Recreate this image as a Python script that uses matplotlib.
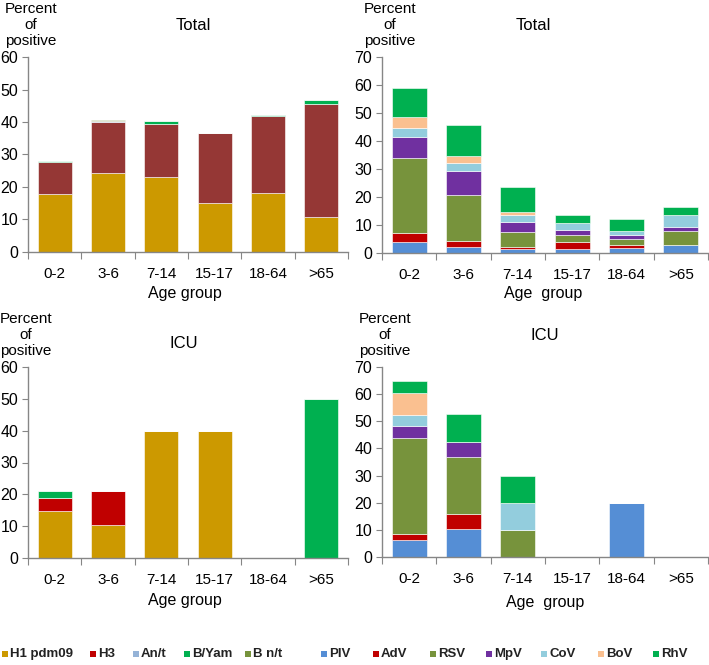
import numpy as np
import matplotlib
matplotlib.use('Agg')
import matplotlib.pyplot as plt
from matplotlib.patches import Rectangle

plt.rcParams['font.family'] = ['Liberation Sans', 'DejaVu Sans']

age_groups = ['0-2', '3-6', '7-14', '15-17', '18-64', '>65']

# influenza panels (left)
flu_names = ['H1 pdm09', 'H3', 'An/t', 'B/Yam', 'B n/t']
flu_total = {
    'H1 pdm09': [17.8, 24.4, 23.2, 15.0, 18.0, 10.7],
    'H3':       [9.9, 15.6, 16.1, 21.5, 23.8, 34.9],
    'An/t':     [0.1, 0.2, 0.1, 0.0, 0.2, 0.0],
    'B/Yam':    [0.2, 0.1, 0.9, 0.0, 0.2, 1.1],
    'B n/t':    [0.0, 0.4, 0.1, 0.0, 0.1, 0.0],
}
flu_icu = {
    'H1 pdm09': [14.7, 10.4, 40.0, 40.0, 0.0, 0.0],
    'H3':       [4.1, 10.6, 0.0, 0.0, 0.0, 0.0],
    'An/t':     [0.0, 0.0, 0.0, 0.0, 0.0, 0.0],
    'B/Yam':    [2.2, 0.0, 0.0, 0.0, 0.0, 50.0],
    'B n/t':    [0.0, 0.0, 0.0, 0.0, 0.0, 0.0],
}

# other respiratory viruses (right)
resp_names = ['PIV', 'AdV', 'RSV', 'MpV', 'CoV', 'BoV', 'RhV']
resp_total = {
    'PIV': [3.8, 2.15, 1.4, 1.3, 1.7, 2.75],
    'AdV': [3.2, 2.15, 0.75, 2.8, 1.05, 0.0],
    'RSV': [26.9, 16.5, 5.35, 2.5, 2.15, 5.05],
    'MpV': [7.4, 8.6, 3.4, 1.6, 1.4, 1.6],
    'CoV': [3.5, 2.7, 2.6, 2.55, 1.6, 4.1],
    'BoV': [3.7, 2.4, 1.2, 0.0, 0.0, 0.0],
    'RhV': [10.3, 11.3, 8.7, 2.75, 4.2, 2.9],
}
resp_icu = {
    'PIV': [6.3, 10.5, 0.0, 0.0, 20.0, 0.0],
    'AdV': [2.1, 5.3, 0.0, 0.0, 0.0, 0.0],
    'RSV': [35.5, 21.1, 10.0, 0.0, 0.0, 0.0],
    'MpV': [4.2, 5.3, 0.0, 0.0, 0.0, 0.0],
    'CoV': [4.1, 0.0, 10.0, 0.0, 0.0, 0.0],
    'BoV': [8.3, 0.0, 0.0, 0.0, 0.0, 0.0],
    'RhV': [4.4, 10.6, 10.0, 0.0, 0.0, 0.0],
}

flu_colors = {'H1 pdm09': '#CC9900', 'H3': '#C00000', 'An/t': '#95B3D7',
              'B/Yam': '#00B050', 'B n/t': '#77933C'}
flu_colors_total = dict(flu_colors, **{'H3': '#953735'})
resp_colors = {'PIV': '#558ED5', 'AdV': '#C00000', 'RSV': '#77933C', 'MpV': '#7030A0',
               'CoV': '#93CDDD', 'BoV': '#FAC090', 'RhV': '#00B050'}

W, H = 709, 665
fig = plt.figure(figsize=(W / 100, H / 100), dpi=100)


def px_axes(left, top, right, bottom):
    return fig.add_axes([left / W, (H - bottom) / H, (right - left) / W, (bottom - top) / H])


def stacked(ax, data, names, colors, ymax):
    x = np.arange(len(age_groups))
    base = np.zeros(len(age_groups))
    for name in names:
        vals = np.array(data[name])
        ax.bar(x, vals, 0.64, bottom=base, color=colors[name], edgecolor='white', linewidth=0.4)
        base += vals
    ax.set_xlim(-0.5, 5.5)
    ax.set_ylim(0, ymax)
    ax.set_yticks(np.arange(0, ymax + 1, 10))
    ax.set_xticks(np.arange(-0.5, 6, 1))
    ax.set_xticklabels([])
    ax.set_xticks(x, minor=True)
    ax.set_xticklabels(age_groups, minor=True, fontsize=11)
    ax.tick_params(axis='x', which='major', length=5, color='#868686', direction='out')
    ax.tick_params(axis='x', which='minor', length=0, pad=11)
    ax.tick_params(axis='y', length=4, color='#868686', labelsize=11.5, pad=3)
    for s in ['top', 'right']:
        ax.spines[s].set_visible(False)
    for s in ['left', 'bottom']:
        ax.spines[s].set_color('#868686')
        ax.spines[s].set_linewidth(1.0)
    return ax


ax1 = px_axes(28, 57, 348, 252)
stacked(ax1, flu_total, flu_names, flu_colors_total, 60)
ax2 = px_axes(382, 57, 708, 253)
stacked(ax2, resp_total, resp_names, resp_colors, 70)
ax3 = px_axes(28, 367, 348, 558)
stacked(ax3, flu_icu, flu_names, flu_colors, 60)
ax4 = px_axes(382, 367, 708, 557)
stacked(ax4, resp_icu, resp_names, resp_colors, 70)


def ftext(x, y, s, **kw):
    kw.setdefault('ha', 'center')
    fig.text(x / W, (H - y) / H, s, va='center', **kw)


for cx, top in [(31, 0), (390, 0), (26, 310), (385, 310)]:
    ftext(cx, top + 25, 'Percent\nof\npositive', fontsize=11, linespacing=1.15)

ftext(193, 25, 'Total', fontsize=12)
ftext(533, 25, 'Total', fontsize=12)
ftext(184, 343, 'ICU', fontsize=12)
ftext(545, 335, 'ICU', fontsize=12)

ftext(185, 293, 'Age group', fontsize=11.5)
ftext(543, 293, 'Age  group', fontsize=11.5)
ftext(185, 600, 'Age group', fontsize=11.5)
ftext(545, 603, 'Age  group', fontsize=11.5)

# legends drawn item by item, left edge of each marker in pixels
leg_y = 654
leg_items = list(zip(flu_names, [flu_colors[n] for n in flu_names], [2, 90, 133, 184, 245])) + \
    list(zip(resp_names, [resp_colors[n] for n in resp_names], [321, 373, 430, 486, 541, 598, 653]))
for name, color, xpos in leg_items:
    fig.patches.append(Rectangle((xpos / W, (H - leg_y - 3) / H), 6 / W, 6 / H,
                                 transform=fig.transFigure, facecolor=color, edgecolor='none'))
    ftext(xpos + 8, leg_y, name, ha='left', fontsize=9.5, fontweight='bold', color='#222222')

fig.savefig('out.png', dpi=100)
